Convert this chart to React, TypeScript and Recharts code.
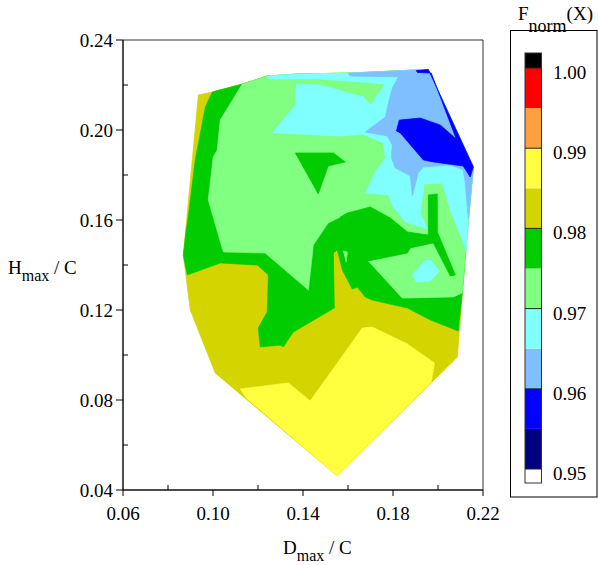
import React from 'react';
import { ScatterChart, Scatter, XAxis, YAxis, ReferenceArea } from 'recharts';

const FONT = "'Liberation Serif', 'Times New Roman', Times, 'DejaVu Serif', serif";

const X_TICKS = [0.06, 0.08, 0.1, 0.12, 0.14, 0.16, 0.18, 0.2, 0.22];
const Y_TICKS = [0.04, 0.06, 0.08, 0.1, 0.12, 0.14, 0.16, 0.18, 0.2, 0.22, 0.24];

// contour levels, bottom to top of the colour bar
const LEVELS = [0.95, 0.955, 0.96, 0.965, 0.97, 0.975, 0.98, 0.985, 0.99, 0.995, 1.0];
const LEVEL_COLORS = ['#000080', '#0000ff', '#80bfff', '#80ffff', '#80ff80', '#00cc00', '#d4d400', '#ffff40', '#ffa040', '#ff0000'];
const LEVEL_LABELS = [0.95, 0.96, 0.97, 0.98, 0.99, 1.0];

type P = [number, number];

// each zone is the region above one level, painted in order
const oliveZone: P[] = [
  [0.0935, 0.2156], [0.0997, 0.2169], [0.113, 0.2204], [0.1241, 0.224], [0.1379, 0.2249], [0.161, 0.2253],
  [0.1908, 0.2267], [0.1957, 0.2269], [0.2157, 0.1836], [0.2135, 0.16], [0.2108, 0.1276], [0.2086, 0.0991],
  [0.1552, 0.0462], [0.101, 0.092], [0.0899, 0.12], [0.0868, 0.1444],
];
const yellowZone: P[] = [
  [0.1121, 0.0849], [0.1335, 0.0876], [0.1432, 0.0796], [0.1664, 0.112], [0.1708, 0.1124], [0.1864, 0.1049],
  [0.1984, 0.0964], [0.197, 0.088], [0.1552, 0.0462], [0.1148, 0.0809],
];
const greenZone: P[] = [
  [0.0997, 0.2169], [0.113, 0.2204], [0.1241, 0.224], [0.1379, 0.2249], [0.161, 0.2253], [0.1908, 0.2267],
  [0.1957, 0.2269], [0.2157, 0.1836], [0.2135, 0.16], [0.2108, 0.1276], [0.209, 0.1107], [0.1966, 0.1156],
  [0.1864, 0.1209], [0.1708, 0.1244], [0.1677, 0.1258], [0.1641, 0.1302], [0.1619, 0.1293], [0.1575, 0.1378],
  [0.1552, 0.1467], [0.1535, 0.1453], [0.1539, 0.1209], [0.1357, 0.1102], [0.1312, 0.1036], [0.1299, 0.1044],
  [0.121, 0.1036], [0.1201, 0.112], [0.1241, 0.1191], [0.1246, 0.1356], [0.1197, 0.14], [0.1032, 0.1409],
  [0.0886, 0.1356], [0.0868, 0.1444], [0.0881, 0.1556], [0.089, 0.1613], [0.0921, 0.1867], [0.0966, 0.2102],
];
const lightGreenZone: P[] = [
  [0.113, 0.2204], [0.1241, 0.224], [0.1379, 0.2249], [0.161, 0.2253], [0.1908, 0.2267], [0.1957, 0.2269],
  [0.2157, 0.1836], [0.2135, 0.16], [0.2108, 0.1276], [0.2068, 0.1258], [0.1841, 0.1253], [0.169, 0.1418],
  [0.1592, 0.1631], [0.1566, 0.1613], [0.1512, 0.1587], [0.1446, 0.1489], [0.1424, 0.1289], [0.1232, 0.1453],
  [0.1046, 0.1458], [0.0979, 0.1689], [0.1001, 0.188], [0.1019, 0.1911], [0.1032, 0.2044],
];
const greenBand: P[] = [
  [0.1566, 0.1613], [0.1597, 0.1631], [0.1699, 0.1658], [0.1788, 0.1609], [0.1864, 0.1547], [0.1957, 0.1533],
  [0.1957, 0.1711], [0.1997, 0.1716], [0.1997, 0.1547], [0.2077, 0.1356], [0.2055, 0.1351], [0.1979, 0.1498],
  [0.1877, 0.1476], [0.1864, 0.1453], [0.169, 0.1418], [0.161, 0.1413],
];
const greenHook: P[] = [
  [0.1366, 0.1898], [0.1535, 0.1898], [0.1588, 0.1858], [0.1512, 0.184], [0.1468, 0.1716],
];
const lightGreenSpeck: P[] = [[0.158, 0.1462], [0.1597, 0.1458], [0.1592, 0.1413]];
const cyanZone: P[] = [
  [0.1241, 0.224], [0.1379, 0.2249], [0.161, 0.2253], [0.1908, 0.2267], [0.1957, 0.2269], [0.2157, 0.1836],
  [0.2135, 0.16], [0.2126, 0.1462], [0.2055, 0.1644], [0.2019, 0.1764], [0.1939, 0.176], [0.1921, 0.1631],
  [0.1952, 0.156], [0.1855, 0.1591], [0.1801, 0.1658], [0.1779, 0.1711], [0.1677, 0.172], [0.1721, 0.1813],
  [0.1766, 0.1876], [0.1757, 0.1942], [0.1664, 0.1982], [0.1566, 0.1973], [0.1388, 0.1982], [0.1264, 0.1987],
  [0.1366, 0.2111], [0.137, 0.2204], [0.1477, 0.22], [0.1668, 0.2147], [0.1699, 0.2111], [0.1766, 0.2204],
  [0.1477, 0.2227], [0.1246, 0.2227],
];
const cyanSpot: P[] = [
  [0.1886, 0.1356], [0.1939, 0.1418], [0.1966, 0.1422], [0.2006, 0.1373], [0.1966, 0.1329], [0.1904, 0.1324],
];
const lightBlueZone: P[] = [
  [0.1601, 0.2252], [0.1908, 0.2267], [0.1957, 0.2269], [0.2157, 0.1836], [0.2135, 0.16], [0.2121, 0.1764],
  [0.2112, 0.1822], [0.2055, 0.1844], [0.1935, 0.1836], [0.1912, 0.1809], [0.1886, 0.1707], [0.1877, 0.1796],
  [0.181, 0.1831], [0.1792, 0.188], [0.1797, 0.1933], [0.1775, 0.1973], [0.1677, 0.1991], [0.1766, 0.2058],
  [0.1775, 0.2102], [0.1797, 0.2187], [0.1824, 0.2236], [0.161, 0.224],
];
const blueZone: P[] = [
  [0.1903, 0.2264], [0.1957, 0.2269], [0.2157, 0.1836], [0.2143, 0.1791], [0.2112, 0.184], [0.1979, 0.1858],
  [0.1935, 0.1867], [0.1832, 0.1987], [0.1815, 0.1996], [0.1828, 0.2044], [0.1921, 0.2053], [0.201, 0.2022],
  [0.2081, 0.196], [0.197, 0.2253], [0.1908, 0.2256],
];

const REGIONS: { name: string; color: string; pts: P[] }[] = [
  { name: 'olive', color: LEVEL_COLORS[6], pts: oliveZone },
  { name: 'yellow', color: LEVEL_COLORS[7], pts: yellowZone },
  { name: 'green', color: LEVEL_COLORS[5], pts: greenZone },
  { name: 'lgreen', color: LEVEL_COLORS[4], pts: lightGreenZone },
  { name: 'band', color: LEVEL_COLORS[5], pts: greenBand },
  { name: 'hook', color: LEVEL_COLORS[5], pts: greenHook },
  { name: 'speck', color: LEVEL_COLORS[4], pts: lightGreenSpeck },
  { name: 'cyan', color: LEVEL_COLORS[3], pts: cyanZone },
  { name: 'cyanSpot', color: LEVEL_COLORS[3], pts: cyanSpot },
  { name: 'lblue', color: LEVEL_COLORS[2], pts: lightBlueZone },
  { name: 'blue', color: LEVEL_COLORS[1], pts: blueZone },
];

const polyLine = (color: string) => (props: any) => {
  const pts = (props.points || []).map((p: any) => `${p.x},${p.y}`).join(' ');
  return <polygon points={pts} fill={color} stroke={color} strokeWidth={0.7} strokeLinejoin="round" />;
};

const textStyle = { fontFamily: FONT };

function XTick(props: any) {
  const { x, y, payload } = props;
  const v = payload.value;
  const major = Math.round(v * 100) % 4 === 2;
  return (
    <g>
      <line x1={x} x2={x} y1={y} y2={major ? y + 6 : y - 5} stroke="#000" />
      {major && (
        <text x={x} y={y + 30} textAnchor="middle" fontSize={19} style={textStyle} fill="#000">
          {v.toFixed(2)}
        </text>
      )}
    </g>
  );
}

function YTick(props: any) {
  const { x, y, payload } = props;
  const v = payload.value;
  const major = Math.round(v * 100) % 4 === 0;
  return (
    <g>
      <line x1={x} x2={major ? x - 7 : x + 5} y1={y} y2={y} stroke="#000" />
      {major && (
        <text x={x - 10} y={y + 6.5} textAnchor="end" fontSize={19} style={textStyle} fill="#000">
          {v.toFixed(2)}
        </text>
      )}
    </g>
  );
}

// colour bar geometry
const BAR_TOP = 68;
const BAR_BOTTOM = 469;
const barY = (v: number) => BAR_BOTTOM - ((v - LEVELS[0]) / (LEVELS[LEVELS.length - 1] - LEVELS[0])) * (BAR_BOTTOM - BAR_TOP);

function ColorBar() {
  const x0 = 525;
  const w = 16.5;
  return (
    <g>
      <rect x={510.5} y={30.5} width={86.5} height={466.5} fill="none" stroke="#000" />
      <rect x={x0} y={53} width={w} height={BAR_TOP - 53} fill="#000" />
      {LEVEL_COLORS.map((c, i) => (
        <rect key={i} x={x0} y={barY(LEVELS[i + 1])} width={w} height={barY(LEVELS[i]) - barY(LEVELS[i + 1])} fill={c} />
      ))}
      <rect x={x0} y={BAR_BOTTOM} width={w} height={14} fill="#fff" />
      <rect x={x0} y={53} width={w} height={BAR_BOTTOM + 14 - 53} fill="none" stroke="#333" />
      {LEVEL_LABELS.map((v) => (
        <g key={v}>
          <line x1={x0} x2={x0 + w} y1={barY(v)} y2={barY(v)} stroke="#222" />
          <text x={553} y={barY(v) + 11} fontSize={19} style={textStyle} fill="#000">
            {v.toFixed(2)}
          </text>
        </g>
      ))}
    </g>
  );
}

export default function App() {
  return (
    <div style={{ position: 'absolute', left: 0, top: 0, width: 598, height: 565, background: '#fff', fontFamily: FONT }}>
      <ScatterChart width={598} height={565} margin={{ top: 40, right: 115, bottom: 45, left: 0 }}>
        <XAxis
          type="number"
          dataKey="x"
          domain={[0.06, 0.22]}
          ticks={X_TICKS}
          interval={0}
          tickSize={0}
          tickMargin={0}
          tick={(p: any) => <XTick {...p} />}
          axisLine={{ stroke: '#000' }}
          height={30}
          allowDataOverflow
        />
        <YAxis
          type="number"
          dataKey="y"
          domain={[0.04, 0.24]}
          ticks={Y_TICKS}
          interval={0}
          tickSize={0}
          tickMargin={0}
          tick={(p: any) => <YTick {...p} />}
          axisLine={{ stroke: '#000' }}
          width={123}
          allowDataOverflow
        />
        {REGIONS.map((r) => (
          <Scatter
            key={r.name}
            name={r.name}
            data={r.pts.map(([x, y]) => ({ x, y }))}
            shape={() => <g />}
            line={polyLine(r.color)}
            lineType="joint"
            legendType="none"
            isAnimationActive={false}
          />
        ))}
        <ReferenceArea x1={0.06} x2={0.22} y1={0.04} y2={0.24} fill="none" stroke="#333" ifOverflow="visible" />
      </ScatterChart>
      <svg
        width={598}
        height={565}
        style={{ position: 'absolute', left: 0, top: 0, pointerEvents: 'none', fontFamily: FONT }}
      >
        <text x={518} y={20} fontSize={19} style={textStyle} fill="#000">
          F<tspan dy={12} fontSize={18}>norm</tspan>
          <tspan dy={-12}>(X)</tspan>
        </text>
        <ColorBar />
        <text x={283} y={554} fontSize={19} style={textStyle} fill="#000">
          D<tspan dy={7} fontSize={16}>max</tspan>
          <tspan dy={-7}> / C</tspan>
        </text>
        <text x={8} y={274} fontSize={19} style={textStyle} fill="#000">
          H<tspan dy={7} fontSize={16}>max</tspan>
          <tspan dy={-7}> / C</tspan>
        </text>
      </svg>
    </div>
  );
}
